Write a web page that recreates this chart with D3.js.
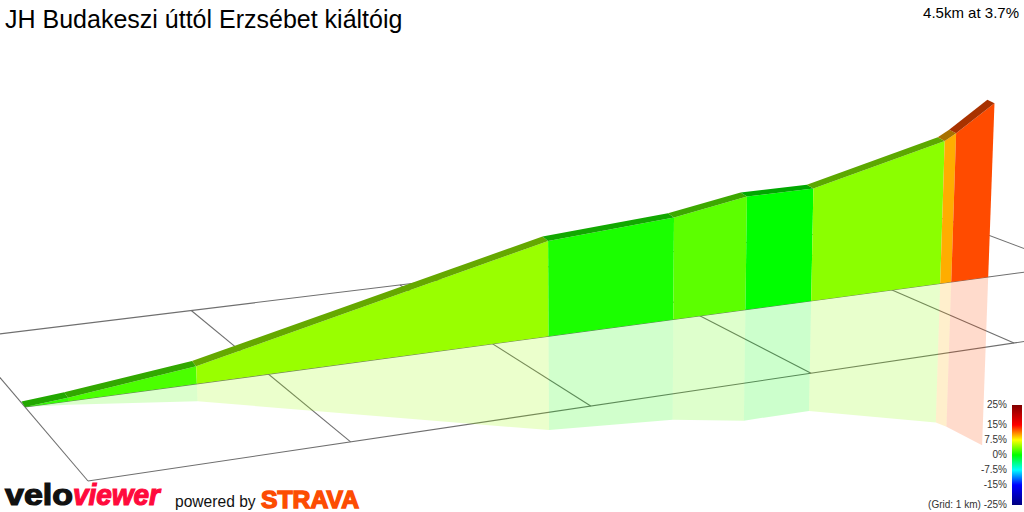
<!DOCTYPE html>
<html><head><meta charset="utf-8">
<style>html,body{margin:0;padding:0;background:#fff}svg{display:block}text{font-family:"Liberation Sans",Arial,sans-serif}</style>
<script src="https://cdn.jsdelivr.net/npm/d3@7"></script></head>
<body><svg id="c" width="1024" height="512"></svg>
<script>
// ---- data ----
const titleText = "JH Budakeszi úttól Erzsébet kiáltóig";
const summaryText = "4.5km at 3.7%";
const stationKm = [0, 0.171, 0.697, 2.262, 2.867, 3.23, 3.57, 4.263, 4.324, 4.53];
const elevationM = [0, 2.9, 14.8, 84.6, 92.4, 103.7, 104.1, 135, 141, 165.5];
const gradientPct = [1.5, 2.2, 4.5, 0.8, 2.7, 0, 4.1, 9.9, 12.8];
const legendStops = [25, 15, 7.5, 0, -7.5, -15, -25];
const legendColors = ["#800000", "#ff0000", "#ffff00", "#00ff00", "#00ffff", "#0000ff", "#000080"];
const legendLabels = ["25%", "15%", "7.5%", "0%", "-7.5%", "-15%", "(Grid: 1 km) -25%"];
const gridAlongKm = [0, 1, 2, 3, 4, 5];
const gridAcrossKm = [0, 1, 2.12];
const roadAcrossKm = 1;
const roadWidthKm = 0.06;
const roadCrownM = 1.3;

// ---- scales ----
const color = d3.scaleLinear().domain(legendStops).range(legendColors).interpolate(d3.interpolateRgb);
const sScale = d3.scaleLinear().domain([0, 4]).range([0, 1]);
const zScale = d3.scaleLinear().domain([0, 166]).range([0, 0.0209]);
// perspective camera: four corners of the ground grid, and the vertical vanishing point
const quad = {p00:[88,481], p10:[1014,343], p11:[892,290], p01:[25,407]};
const vanish = [600, 11000];
const H = (function(q){
  const [x0,y0]=q.p00,[x1,y1]=q.p10,[x2,y2]=q.p11,[x3,y3]=q.p01;
  const dx1=x1-x2,dx2=x3-x2,sx=x0-x1+x2-x3,dy1=y1-y2,dy2=y3-y2,sy=y0-y1+y2-y3;
  const det=dx1*dy2-dx2*dy1;
  const g=(sx*dy2-dx2*sy)/det,h=(dx1*sy-sx*dy1)/det;
  return {a:x1-x0+g*x1,b:x3-x0+h*x3,c:x0,d:y1-y0+g*y1,e:y3-y0+h*y3,f:y0,g,h};
})(quad);
function project(km, across, metres){
  const s=sScale(km), F=(metres<0?1:-1)*zScale(Math.abs(metres));
  const X=H.a*s+H.b*across+H.c, Y=H.d*s+H.e*across+H.f, W=H.g*s+H.h*across+1;
  return [(X+vanish[0]*F)/(W+F),(Y+vanish[1]*F)/(W+F)];
}
const line = d3.line();
const poly = pts => line(pts)+"Z";
const darker = c => { const r=d3.rgb(c); return d3.rgb(r.r*0.66,r.g*0.66,r.b*0.66).formatHex(); };

const svg = d3.select("#c");

// ---- ground grid ----
const gridG = svg.append("g").attr("fill","none").attr("stroke","#6f6f6f").attr("stroke-width",1.1);
const gridMax = gridAcrossKm[gridAcrossKm.length-1];
gridAcrossKm.forEach(v => gridG.append("path").attr("d", line([project(0,v,0),project(5,v,0)])));
gridAlongKm.forEach(u => gridG.append("path").attr("d", line([project(u,0,0),project(u,gridMax,0)])));

// ---- segments ----
const segs = gradientPct.map((g,i)=>({g,k0:stationKm[i],k1:stationKm[i+1],e0:elevationM[i],e1:elevationM[i+1]}));
svg.append("g").selectAll("path").data(segs).join("path")
  .attr("fill",d=>color(d.g)).attr("fill-opacity",0.2)
  .attr("d",d=>poly([project(d.k0,roadAcrossKm,0),project(d.k1,roadAcrossKm,0),project(d.k1,roadAcrossKm,-d.e1),project(d.k0,roadAcrossKm,-d.e0)]));
svg.append("g").selectAll("path").data(segs).join("path")
  .attr("fill",d=>color(d.g))
  .attr("d",d=>poly([project(d.k0,roadAcrossKm,0),project(d.k1,roadAcrossKm,0),project(d.k1,roadAcrossKm,d.e1),project(d.k0,roadAcrossKm,d.e0)]));
svg.append("g").selectAll("path").data(segs).join("path")
  .attr("fill",d=>darker(color(d.g)))
  .attr("d",d=>poly([project(d.k0,roadAcrossKm,d.e0),project(d.k1,roadAcrossKm,d.e1),project(d.k1,roadAcrossKm+roadWidthKm,d.e1+roadCrownM),project(d.k0,roadAcrossKm+roadWidthKm,d.e0+roadCrownM)]));

// ---- titles ----
svg.append("text").attr("x",5).attr("y",28).attr("font-size",25).attr("fill","#000").text(titleText);
svg.append("text").attr("x",1019).attr("y",18).attr("text-anchor","end").attr("font-size",15).attr("fill","#000").text(summaryText);

// ---- legend ----
const defs = svg.append("defs");
const lg = defs.append("linearGradient").attr("id","lg").attr("x1",0).attr("x2",0).attr("y1",0).attr("y2",1);
const legY = d3.scaleLinear().domain([25,-25]).range([405,505]);
legendStops.forEach((p,i)=>lg.append("stop").attr("offset",(legY(p)-405)/100).attr("stop-color",legendColors[i]));
svg.append("rect").attr("x",1012).attr("y",405).attr("width",10).attr("height",100).attr("fill","url(#lg)");
legendStops.forEach((p,i)=>{
  svg.append("text").attr("x",1007).attr("y",[408,428,443,458,473,488,508][i]).attr("text-anchor","end")
    .attr("font-size",10).attr("fill","#333").text(legendLabels[i]);
});

// ---- branding ----
svg.append("text").attr("x",5).attr("y",505).attr("font-size",29).attr("font-weight",800).attr("font-family","'Open Sans'")
  .attr("fill","#111").attr("stroke","#111").attr("stroke-width",1.2).attr("textLength",68).attr("lengthAdjust","spacingAndGlyphs").text("velo");
svg.append("text").attr("x",73).attr("y",505).attr("font-size",29).attr("font-weight",800).attr("font-style","italic").attr("font-family","'Open Sans'")
  .attr("fill","#ff0a3c").attr("stroke","#ff0a3c").attr("stroke-width",1.2).attr("textLength",87).attr("lengthAdjust","spacingAndGlyphs").text("viewer");
svg.append("text").attr("x",175).attr("y",507).attr("font-size",15.6).attr("fill","#111").text("powered by");
svg.append("text").attr("x",261).attr("y",508).attr("font-size",24).attr("font-weight",700).attr("font-family","'Liberation Sans'")
  .attr("fill","#fc4c02").attr("stroke","#fc4c02").attr("stroke-width",1.4).attr("textLength",98).attr("lengthAdjust","spacingAndGlyphs").text("STRAVA");
</script></body></html>
